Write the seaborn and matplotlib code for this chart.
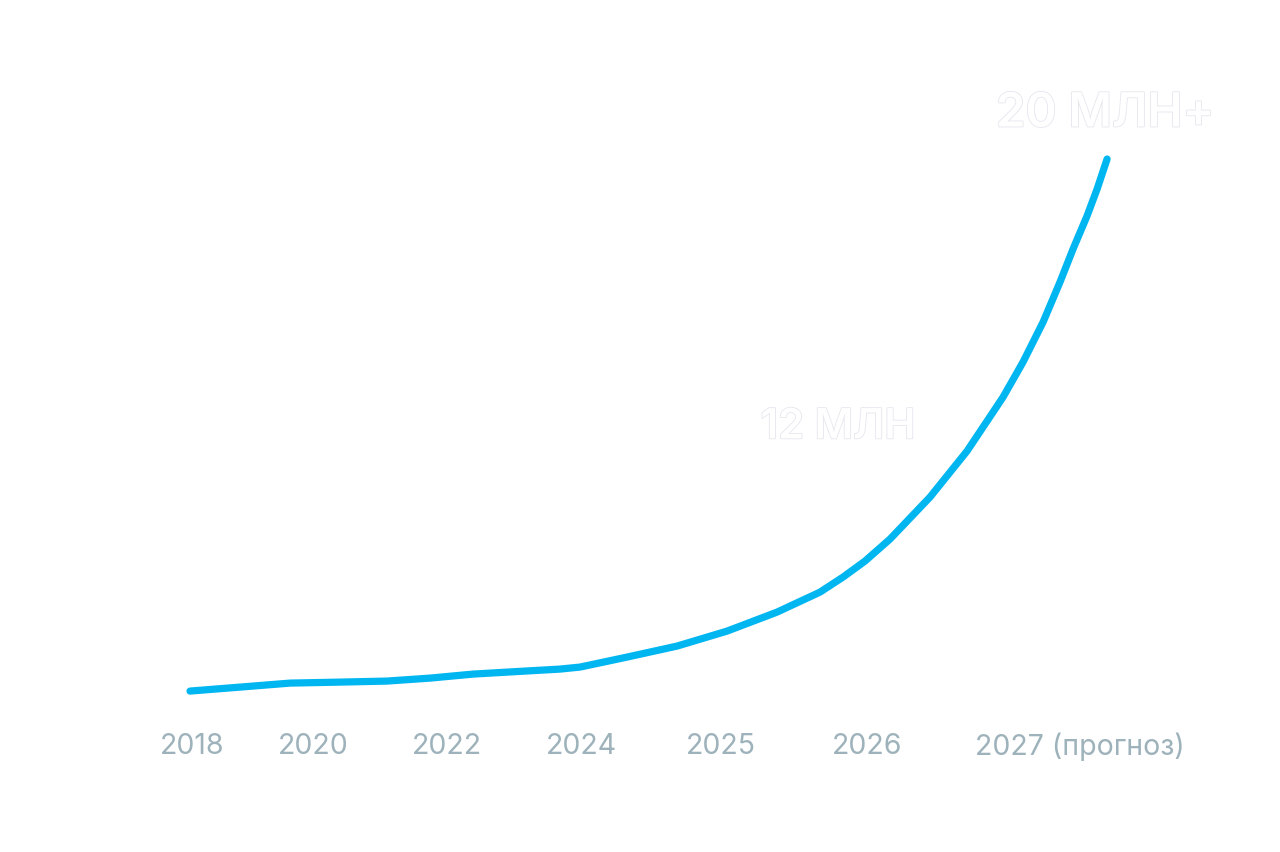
import matplotlib
matplotlib.use("Agg")
import matplotlib.pyplot as plt
import matplotlib.patheffects as pe
import seaborn as sns
import pandas as pd

# curve points (x in label-slot units, y in millions)
curve_x = [0.0, 0.376, 0.752, 1.128, 1.481, 1.805, 2.128, 2.519, 2.782, 2.932,
           3.286, 3.662, 4.038, 4.414, 4.737, 4.910, 5.075, 5.263, 5.564, 5.842,
           6.038, 6.113, 6.263, 6.414, 6.541, 6.639, 6.744, 6.820, 6.895]
curve_y = [3.934, 4.054, 4.175, 4.205, 4.236, 4.326, 4.447, 4.538, 4.598, 4.659,
           4.961, 5.293, 5.746, 6.320, 6.924, 7.378, 7.861, 8.526, 9.795, 11.184,
           12.363, 12.816, 13.873, 15.082, 16.290, 17.287, 18.284, 19.100, 20.006]

tick_pos = [0.02, 0.93, 1.93, 2.94, 3.99, 5.09, 6.69]
tick_labels = ["2018", "2020", "2022", "2024", "2025", "2026", "2027 (прогноз)"]

labels_txt = ["20 МЛН+", "12 МЛН"]
labels_x = [6.88, 4.87]
labels_y = [21.35, 11.9]
labels_size = [34, 30]

df = pd.DataFrame({"x": curve_x, "y": curve_y})

sns.set_theme(style="white")
plt.rcParams["font.family"] = ["Inter", "DejaVu Sans"]

fig = plt.figure(figsize=(12.8, 8.53), dpi=100)
ax = fig.add_axes([0, 0.1559, 1, 0.8441])

sns.lineplot(data=df, x="x", y="y", sort=False, color="#00b6f1", linewidth=5.2,
             ax=ax, solid_capstyle="round", solid_joinstyle="round")

for t, x, y, s in zip(labels_txt, labels_x, labels_y, labels_size):
    ax.text(x, y, t, ha="center", va="center", fontsize=s, fontweight="semibold",
            color="white",
            path_effects=[pe.withStroke(linewidth=1.2, foreground="#e6e6ee")])

ax.set_xlim(-1.4286, 8.195)
ax.set_ylim(3.09, 24.84)
ax.set_xticks(tick_pos)
ax.set_xticklabels(tick_labels, fontsize=20.5, color="#9db2ba")
ax.tick_params(axis="x", length=0, pad=9)
ax.set_yticks([])
ax.set_xlabel("")
ax.set_ylabel("")
sns.despine(ax=ax, left=True, bottom=True)

fig.savefig("out.png", dpi=100, facecolor="white")
